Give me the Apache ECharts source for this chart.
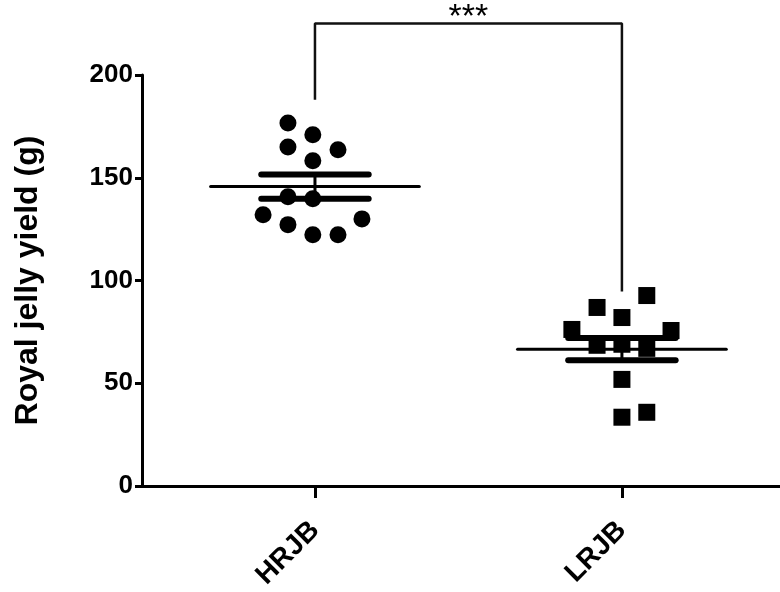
<!DOCTYPE html>
<html>
<head>
<meta charset="utf-8">
<script src="https://cdn.jsdelivr.net/npm/echarts@6/dist/echarts.min.js"></script>
<style>
  html, body { margin: 0; padding: 0; background: #fff; }
  #chart { width: 780px; height: 592px; }
</style>
</head>
<body>
<div id="chart"></div>
<script>
// groups on the x axis (1 = HRJB, 2 = LRJB)
const groups = ['HRJB', 'LRJB'];
const groupPos = [1, 2];

// individual colonies, x = jittered group position, y = yield (g)
const hrjbX = [0.912, 0.993, 0.912, 1.075, 0.993, 0.912, 0.993, 0.831, 1.153, 0.912, 0.993, 1.075];
const hrjbY = [176.7, 170.9, 165.0, 163.6, 158.3, 140.8, 139.8, 132.0, 130.0, 127.2, 122.3, 122.3];
const lrjbX = [2.081, 1.919, 2.000, 1.837, 2.160, 1.919, 2.000, 2.081, 2.000, 2.081, 2.000];
const lrjbY = [92.7, 86.9, 82.0, 76.2, 75.7, 68.5, 69.0, 67.0, 51.9, 35.9, 33.5];

// mean and SEM per group
const means = [145.7, 66.6];
const sems = [5.9, 5.4];

// significance bracket
const bracketX = [1, 1, 2, 2];
const bracketY = [188, 225, 225, 94.7];
const sigLabel = '***';

const yTicks = [0, 50, 100, 150, 200];

const font = 'Liberation Sans, Arial, sans-serif';

const chart = echarts.init(document.getElementById('chart'));

const option = {
  backgroundColor: '#fff',
  animation: false,
  grid: {
    left: 142,
    right: 0,
    top: 75,
    bottom: 105
  },
  xAxis: {
    type: 'value',
    min: 0.4365,
    max: 2.515,
    splitLine: { show: false },
    axisLine: { lineStyle: { color: '#000', width: 3 } },
    axisTick: {
      customValues: groupPos,
      length: 12,
      lineStyle: { color: '#000', width: 3 }
    },
    axisLabel: {
      customValues: groupPos,
      formatter: v => groups[Math.round(v) - 1],
      rotate: 45,
      margin: 40,
      color: '#000',
      fontFamily: font,
      fontWeight: 'bold',
      fontSize: 28
    }
  },
  yAxis: {
    type: 'value',
    min: yTicks[0],
    max: yTicks[yTicks.length - 1],
    interval: 50,
    name: 'Royal jelly yield (g)',
    nameLocation: 'middle',
    nameGap: 98,
    nameTextStyle: {
      color: '#000',
      fontFamily: font,
      fontWeight: 'bold',
      fontSize: 32
    },
    splitLine: { show: false },
    axisLine: { lineStyle: { color: '#000', width: 3 } },
    axisTick: { length: 7, lineStyle: { color: '#000', width: 3 } },
    axisLabel: {
      margin: 9,
      color: '#000',
      fontFamily: font,
      fontWeight: 'bold',
      fontSize: 26
    }
  },
  series: [
    {
      type: 'scatter',
      symbol: 'circle',
      symbolSize: 17,
      itemStyle: { color: '#000', opacity: 1 },
      data: hrjbX.map((x, i) => [x, hrjbY[i]])
    },
    {
      type: 'scatter',
      symbol: 'rect',
      symbolSize: 17,
      itemStyle: { color: '#000', opacity: 1 },
      data: lrjbX.map((x, i) => [x, lrjbY[i]])
    },
    {
      // mean line + SEM whiskers
      type: 'custom',
      data: groupPos.map((p, i) => [p, means[i], sems[i]]),
      renderItem: (params, api) => {
        const x = api.value(0), m = api.value(1), s = api.value(2);
        const mL = api.coord([x - 0.34, m]), mR = api.coord([x + 0.34, m]);
        const tL = api.coord([x - 0.175, m + s]), tR = api.coord([x + 0.175, m + s]);
        const bL = api.coord([x - 0.175, m - s]), bR = api.coord([x + 0.175, m - s]);
        const vT = api.coord([x, m + s]), vB = api.coord([x, m - s]);
        const line = (a, b, w) => ({
          type: 'line',
          shape: { x1: a[0], y1: a[1], x2: b[0], y2: b[1] },
          style: { stroke: '#000', lineWidth: w, lineCap: 'round' }
        });
        return {
          type: 'group',
          children: [
            line(mL, mR, 3),
            line(vT, vB, 3),
            line(tL, tR, 6),
            line(bL, bR, 6)
          ]
        };
      },
      z: 3
    },
    {
      type: 'line',
      clip: false,
      symbol: 'none',
      lineStyle: { color: '#111', width: 2.5 },
      data: bracketX.map((x, i) => [x, bracketY[i]])
    },
    {
      type: 'scatter',
      clip: false,
      symbolSize: 0,
      itemStyle: { opacity: 1 },
      data: [[(bracketX[1] + bracketX[2]) / 2, bracketY[1]]],
      label: {
        show: true,
        position: 'top',
        distance: 0,
        offset: [0, 11],
        formatter: sigLabel,
        color: '#000',
        fontFamily: font,
        fontSize: 34
      }
    }
  ]
};

chart.setOption(option);
</script>
</body>
</html>
